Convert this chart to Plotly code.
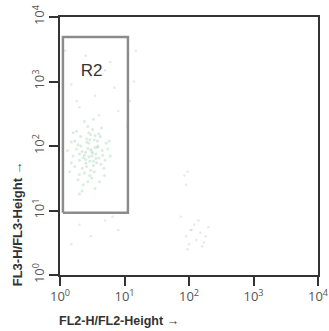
import plotly.graph_objects as go

tick_vals = [1, 10, 100, 1000, 10000]
tick_text = ["10<sup>0</sup>", "10<sup>1</sup>", "10<sup>2</sup>", "10<sup>3</sup>", "10<sup>4</sup>"]

# dense green population inside gate R2
green_x = [2.0, 2.5, 3.1, 3.5, 2.8, 2.2, 4.0, 3.3, 1.8, 2.6, 3.0, 4.5, 1.6, 2.4, 3.8, 2.9, 3.6, 2.1,
           5.0, 1.5, 2.7, 3.2, 4.2, 1.9, 2.3, 3.4, 4.8, 2.0, 2.5, 3.0, 3.7, 1.7, 2.8, 5.5, 6.0, 1.4,
           2.2, 3.1, 4.1, 2.6, 3.9, 2.4, 3.3, 1.8, 4.4, 2.0, 3.5, 2.9, 5.2, 1.3, 2.3, 2.7, 3.2, 3.6,
           4.3, 1.9, 2.1, 2.6, 3.0, 3.4, 4.6, 1.6, 2.5, 2.8, 3.1, 3.8, 2.2, 2.9, 4.0, 1.7, 3.3, 2.4,
           5.8, 1.5, 2.0, 2.7, 3.5, 4.9]
green_y = [60, 80, 70, 95, 110, 45, 65, 50, 90, 130, 150, 85, 70, 38, 120, 58, 75, 100,
           60, 55, 200, 180, 140, 30, 25, 40, 45, 75, 62, 88, 55, 120, 160, 90, 70, 40,
           20, 32, 28, 48, 100, 240, 260, 170, 190, 18, 22, 35, 110, 85, 66, 92, 78, 64,
           52, 105, 140, 115, 42, 125, 72, 160, 54, 68, 82, 96, 82, 125, 155, 48, 58, 72,
           120, 115, 36, 28, 145, 35]

# sparse grey events
grey_x = [2.0, 3.5, 1.5, 5.0, 2.5, 7.0, 4.0, 1.2, 6.0, 3.0, 1.8, 8.0, 12, 14, 15, 11,
          2.0, 3.0, 5.0, 8.0, 1.5, 6.5,
          90, 110, 130, 150, 100, 180, 200, 120, 95, 160, 140, 170, 85, 95, 90, 105, 75]
grey_y = [400, 600, 900, 1500, 2500, 800, 300, 3000, 2000, 1200, 500, 350, 500, 1000, 3000, 200,
          6, 4, 7, 5, 3, 8,
          4, 5, 3.5, 4.5, 3, 4, 5.5, 6, 2.5, 2.8, 7, 3.2, 35, 40, 25, 5, 8]

# gate R2 corners
gate_x = [1.11, 11.3, 11.3, 1.11, 1.11]
gate_y = [9.2, 9.2, 4900, 4900, 9.2]
gate_label = "R2"

fig = go.Figure()
fig.add_trace(go.Scatter(x=grey_x, y=grey_y, mode="markers",
                         marker=dict(size=2.5, color="rgba(180,180,180,0.3)"),
                         hoverinfo="skip"))
fig.add_trace(go.Scatter(x=green_x, y=green_y, mode="markers",
                         marker=dict(size=3, color="rgba(140,200,165,0.33)"),
                         hoverinfo="skip"))
fig.add_trace(go.Scatter(x=gate_x, y=gate_y, mode="lines",
                         line=dict(color="#8c8c8c", width=2.5), hoverinfo="skip"))
fig.add_trace(go.Scatter(x=[3.1], y=[1400], mode="text", text=[gate_label],
                         textfont=dict(family="Liberation Sans, Arial", size=17, color="#333333"),
                         hoverinfo="skip"))

axis_common = dict(type="log", range=[0, 4], showgrid=False, zeroline=False, automargin=False,
                   showline=True, linecolor="#333333", linewidth=1.5, mirror=True,
                   ticks="outside", ticklen=9, tickwidth=1.5, tickcolor="#333333",
                   tickvals=tick_vals, ticktext=tick_text, ticklabeloverflow="allow",
                   tickfont=dict(family="Open Sans, Arial", size=13, color="#555555"))

fig.update_xaxes(**axis_common)
fig.update_yaxes(**axis_common, tickangle=-90)

fig.add_annotation(text="<b>FL2-H/FL2-Height →</b>", xref="paper", yref="paper",
                   x=-0.012, y=-0.178, xanchor="left", yanchor="middle", showarrow=False,
                   font=dict(family="Liberation Sans, Arial", size=12.5, color="#333333"))
fig.add_annotation(text="<b>FL3-H/FL3-Height →</b>", xref="paper", yref="paper",
                   x=-0.167, y=-0.05, xanchor="center", yanchor="bottom", textangle=-90,
                   showarrow=False,
                   font=dict(family="Liberation Sans, Arial", size=13, color="#333333"))

fig.update_layout(width=329, height=331, showlegend=False,
                  margin=dict(l=60, r=11, t=17, b=56, autoexpand=False),
                  paper_bgcolor="white", plot_bgcolor="white")

fig.write_html("out.html", config={"displayModeBar": False},
               post_script="document.body.style.margin='0';document.body.style.overflow='hidden';")
